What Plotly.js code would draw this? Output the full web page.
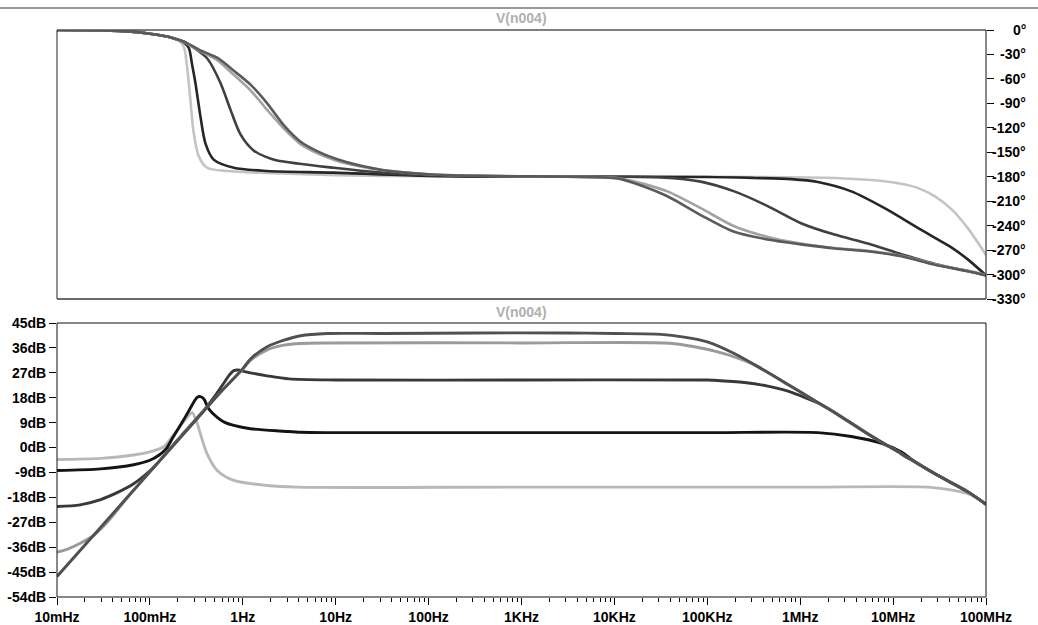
<!DOCTYPE html>
<html>
<head>
<meta charset="utf-8">
<script src="https://cdn.plot.ly/plotly-3.0.1.min.js"></script>
<style>html,body{margin:0;padding:0;background:#fff;}#chart{width:1038px;height:625px;}</style>
</head>
<body>
<div id="chart"></div>
<script>
// ---------- tick labels ----------
var freqTickVals = [0.01, 0.1, 1, 10, 100, 1e3, 1e4, 1e5, 1e6, 1e7, 1e8];
var freqTickText = ["10mHz", "100mHz", "1Hz", "10Hz", "100Hz", "1KHz", "10KHz", "100KHz", "1MHz", "10MHz", "100MHz"];
var magTickVals = [45, 36, 27, 18, 9, 0, -9, -18, -27, -36, -45, -54];
var magTickText = ["45dB", "36dB", "27dB", "18dB", "9dB", "0dB", "-9dB", "-18dB", "-27dB", "-36dB", "-45dB", "-54dB"];
var phaseTickVals = [0, -30, -60, -90, -120, -150, -180, -210, -240, -270, -300, -330];
var phaseTickText = ["0°", "-30°", "-60°", "-90°", "-120°", "-150°", "-180°", "-210°", "-240°", "-270°", "-300°", "-330°"];
var traceTitle = "V(n004)";

// ---------- magnitude (dB) ----------
var mag1F = [0.01, 0.0295, 0.0668, 0.1, 0.141, 0.178, 0.224, 0.26, 0.285, 0.324, 0.35, 0.413, 0.53, 0.8, 1.83, 3.86, 1e3, 1e6, 2.37e7, 4e7, 6.4e7, 1e8];
var mag1V = [-4.3, -3.9, -2.7, -1.6, 0.3, 4.4, 8.7, 11.5, 12.6, 8.6, 4.9, -2.3, -8.3, -11.9, -13.7, -14.3, -14.3, -14.3, -14.3, -15.2, -16.7, -20.5];

var mag2F = [0.01, 0.0295, 0.0668, 0.1, 0.126, 0.15, 0.178, 0.224, 0.262, 0.296, 0.324, 0.35, 0.38, 0.43, 0.53, 0.63, 0.8, 1.21, 2.77, 4.17, 10, 1e3, 1e5, 1.55e6, 3.55e6, 7.4e6, 1.23e7, 1.6e7, 2.82e7, 6.46e7, 1e8];
var mag2V = [-8.3, -7.7, -6.2, -4.6, -2.7, -0.4, 3.8, 9.3, 13.2, 16.4, 18.2, 18.4, 17.6, 14.0, 10.9, 9.2, 8.0, 6.8, 5.9, 5.5, 5.4, 5.4, 5.4, 5.4, 4.0, 1.6, -1.6, -4.4, -9.5, -16.1, -20.5];

var mag3F = [0.01, 0.0178, 0.0295, 0.0444, 0.0668, 0.1, 0.126, 0.158, 0.251, 0.398, 0.5, 0.631, 0.708, 0.8, 0.89, 1, 1.21, 1.83, 3.16, 10, 1e3, 1e5, 1.17e5, 2.51e5, 4.47e5, 7.4e5, 1.2e6, 1.58e6, 2.34e6, 5.37e6, 1.23e7, 2.82e7, 6.46e7, 1e8];
var mag3V = [-21.3, -20.7, -18.8, -16.3, -13.1, -8.4, -4.9, -1.0, 6.6, 14.2, 18.6, 23.5, 26.0, 27.8, 28.0, 27.6, 27.0, 25.9, 24.8, 24.4, 24.4, 24.4, 24.3, 23.5, 22.2, 20.4, 17.7, 16.0, 12.7, 4.9, -2.3, -9.5, -16.1, -20.5];

var mag4F = [0.01, 0.0128, 0.0178, 0.0251, 0.0355, 0.0562, 0.1, 0.316, 0.562, 1, 1.21, 1.83, 2.77, 4.19, 8.1, 1e3, 3.98e4, 7.24e4, 1.29e5, 1.95e5, 2.69e5, 3.8e5, 7.4e5, 1.41e6, 2.34e6, 5.37e6, 1.23e7, 2.82e7, 6.46e7, 1e8];
var mag4V = [-37.8, -36.8, -34.6, -31.6, -26.6, -18.4, -8.8, 10.1, 19.6, 28.3, 31.5, 35.3, 37.0, 37.6, 37.8, 37.8, 37.7, 36.4, 34.6, 32.8, 31.0, 28.4, 22.7, 17.1, 12.7, 4.9, -2.3, -9.5, -16.1, -20.5];

var mag5F = [0.01, 0.0316, 0.1, 0.316, 0.562, 1, 1.21, 1.83, 2.77, 4.19, 8.1, 31.6, 316, 3160, 1e4, 3.16e4, 5.62e4, 1e5, 1.95e5, 3.8e5, 7.4e5, 1.41e6, 2.34e6, 5.37e6, 1.23e7, 2.82e7, 6.46e7, 1e8];
var mag5V = [-46.6, -27.7, -8.8, 10.1, 19.6, 28.5, 32.0, 36.4, 38.8, 40.4, 41.2, 41.2, 41.4, 41.4, 41.2, 40.9, 39.9, 38.2, 34.0, 28.6, 22.8, 17.1, 12.7, 4.9, -2.3, -9.5, -16.1, -20.5];

// ---------- phase (degrees) ----------
var ph1F = [0.01, 0.03, 0.063, 0.1, 0.153, 0.2, 0.231, 0.251, 0.273, 0.296, 0.336, 0.413, 0.68, 1.83, 10, 100, 1e3, 1e5, 2.34e6, 8.1e6, 1.26e7, 1.86e7, 2.82e7, 4.27e7, 6.46e7, 1e8];
var ph1V = [0, -0.5, -2, -4.5, -8, -12, -20, -45, -86, -126, -155, -169, -173, -175.5, -178, -179.5, -180, -180, -181.6, -185.5, -189, -194, -204, -220, -244, -276];

var ph2F = [0.01, 0.03, 0.063, 0.1, 0.153, 0.2, 0.23, 0.262, 0.285, 0.309, 0.35, 0.396, 0.486, 0.8, 1.83, 9.5, 100, 1e3, 1e5, 3.16e5, 8e5, 1.55e6, 3.55e6, 8.1e6, 1.86e7, 2.82e7, 4.27e7, 6.46e7, 1e8];
var ph2V = [0, -0.5, -2, -4.5, -8, -12, -15, -22, -43, -65, -106, -139, -159, -169, -173, -175, -179, -180, -180.3, -181.5, -183, -186.5, -198, -218.6, -243, -255, -267, -282, -301];

var ph3F = [0.01, 0.03, 0.063, 0.1, 0.153, 0.2, 0.231, 0.3, 0.413, 0.575, 0.738, 0.944, 1.315, 1.8, 2.34, 9.5, 31.6, 100, 1e3, 1e4, 3.16e4, 8.5e4, 1.95e5, 4.47e5, 1.02e6, 2.34e6, 5.37e6, 1.23e7, 2.82e7, 6.46e7, 1e8];
var ph3V = [0, -0.5, -2, -4.5, -8, -12, -14, -22, -34.7, -65, -98, -128, -148, -156, -160, -169, -175, -178, -179.5, -180, -181, -186, -198, -216, -237, -251, -262, -275, -287, -296, -301];

var ph4F = [0.01, 0.03, 0.063, 0.1, 0.153, 0.23, 0.35, 0.53, 0.8, 1.21, 1.83, 2.77, 4.19, 6.3, 10, 17.8, 33, 100, 1e3, 3.16e3, 1.07e4, 1.62e4, 3.72e4, 8.5e4, 1.95e5, 4.47e5, 1.02e6, 2.34e6, 5.37e6, 1.23e7, 2.82e7, 6.46e7, 1e8];
var ph4V = [0, -0.5, -2, -4.5, -8, -14.5, -26, -37, -55, -74, -98, -121, -140, -151, -160, -167, -172, -177, -179.5, -180, -181.5, -185.7, -198, -218.6, -240.8, -253.9, -262, -267.5, -271, -277, -287.5, -295.5, -300.5];

var ph5F = [0.01, 0.03, 0.063, 0.1, 0.153, 0.23, 0.35, 0.53, 0.8, 1.21, 1.83, 2.77, 4.19, 6.3, 10, 17.8, 33, 100, 316, 1e3, 3.16e3, 1.07e4, 1.62e4, 3.72e4, 8.5e4, 1.95e5, 4.47e5, 1.02e6, 2.34e6, 5.37e6, 1.23e7, 2.82e7, 6.46e7, 1e8];
var ph5V = [0, -0.5, -2, -4.5, -8, -14, -25, -34, -50, -67, -90, -117, -137, -148.5, -158, -166, -172, -177, -179, -179.5, -180, -182, -187.7, -204, -227, -247.6, -257, -263, -268, -271.5, -277.6, -288, -296, -301];

// ---------- styling ----------
var colors = ["#b8b8b8", "#141414", "#383838", "#9a9a9a", "#505050"];
var phaseColors = ["#c4c4c4", "#262626", "#404040", "#a2a2a2", "#5a5a5a"];
var magF = [mag1F, mag2F, mag3F, mag4F, mag5F];
var magV = [mag1V, mag2V, mag3V, mag4V, mag5V];
var phF = [ph1F, ph2F, ph3F, ph4F, ph5F];
var phV = [ph1V, ph2V, ph3V, ph4V, ph5V];

var minorVals = [];
for (var d = -2; d < 8; d++) {
  for (var k = 2; k <= 9; k++) minorVals.push(k * Math.pow(10, d));
}

var data = [];
for (var i = 0; i < 5; i++) {
  data.push({
    x: phF[i], y: phV[i], xaxis: 'x', yaxis: 'y', mode: 'lines', type: 'scatter',
    line: {color: phaseColors[i], width: 2.6, shape: 'spline', smoothing: 0.8},
    hoverinfo: 'skip', showlegend: false
  });
}
for (var j = 0; j < 5; j++) {
  data.push({
    x: magF[j], y: magV[j], xaxis: 'x2', yaxis: 'y2', mode: 'lines', type: 'scatter',
    line: {color: colors[j], width: 2.9, shape: 'spline', smoothing: 0.8},
    hoverinfo: 'skip', showlegend: false
  });
}

var tickFont = {family: 'Liberation Sans, Arial, sans-serif', size: 14, color: '#000', weight: 'bold'};
var W = 1038, H = 625, L = 57, R = 52, T = 30, B = 28;
var plotW = W - L - R, plotH = H - T - B;
function py(px) { return (H - B - px) / plotH; }
function pxX(px) { return (px - L) / plotW; }

var topBottom = py(299), botTop = py(323);

var annotations = [
  {text: traceTitle, xref: 'paper', yref: 'paper', x: 0.5, y: py(18), xanchor: 'center', yanchor: 'middle', showarrow: false,
   font: {family: 'Liberation Sans, Arial, sans-serif', size: 14, color: '#b0b0b0', weight: 'bold'}},
  {text: traceTitle, xref: 'paper', yref: 'paper', x: 0.5, y: py(312), xanchor: 'center', yanchor: 'middle', showarrow: false,
   font: {family: 'Liberation Sans, Arial, sans-serif', size: 14, color: '#b0b0b0', weight: 'bold'}}
];
for (var t = 0; t < phaseTickVals.length; t++) {
  annotations.push({text: phaseTickText[t], xref: 'paper', yref: 'y', x: pxX(1028), y: phaseTickVals[t],
    xanchor: 'right', yanchor: 'middle', showarrow: false, font: tickFont});
}

var layout = {
  width: W, height: H,
  margin: {l: L, r: R, t: T, b: B, pad: 0},
  paper_bgcolor: '#ffffff', plot_bgcolor: '#ffffff',
  showlegend: false,
  xaxis: {type: 'log', range: [-2, 8], domain: [0, 1], anchor: 'y', showticklabels: false, ticks: '',
          showgrid: false, zeroline: false, showline: false},
  yaxis: {domain: [topBottom, 1], range: [-330, 0], side: 'right', anchor: 'x', tickmode: 'array', tickvals: phaseTickVals,
          ticks: 'outside', ticklen: 7, tickcolor: '#000', tickwidth: 1, showticklabels: false,
          showgrid: false, zeroline: false, showline: false},
  xaxis2: {type: 'log', range: [-2, 8], domain: [0, 1], anchor: 'y2', tickmode: 'array', tickvals: freqTickVals, ticktext: freqTickText,
           ticks: 'outside', ticklen: 7, tickcolor: '#000', tickwidth: 1, tickfont: tickFont,
           minor: {tickmode: 'array', tickvals: minorVals, ticks: 'outside', ticklen: 4, tickcolor: '#000', tickwidth: 1, showgrid: false},
           showgrid: false, zeroline: false, showline: false},
  yaxis2: {domain: [0, botTop], range: [-54, 45], anchor: 'x2', tickmode: 'array', tickvals: magTickVals, ticktext: magTickText,
           ticks: 'outside', ticklen: 7, tickcolor: '#000', tickwidth: 1, tickfont: tickFont,
           showgrid: false, zeroline: false, showline: false},
  annotations: annotations,
  shapes: [
    {type: 'line', xref: 'paper', yref: 'paper', x0: pxX(0), x1: pxX(W), y0: py(8), y1: py(8), line: {color: '#777', width: 1.5}},
    {type: 'line', xref: 'paper', yref: 'paper', x0: 0, x1: 1, y0: 1, y1: 1, line: {color: '#555', width: 1.5}},
    {type: 'line', xref: 'paper', yref: 'paper', x0: 0, x1: 0, y0: topBottom, y1: 1, line: {color: '#222', width: 1}},
    {type: 'line', xref: 'paper', yref: 'paper', x0: 1, x1: 1, y0: topBottom, y1: 1, line: {color: '#111', width: 1}},
    {type: 'line', xref: 'paper', yref: 'paper', x0: 0, x1: 1, y0: topBottom, y1: topBottom, line: {color: '#6a6a6a', width: 2}},
    {type: 'rect', xref: 'paper', yref: 'paper', x0: 0, x1: 1, y0: 0, y1: botTop, line: {color: '#111', width: 1}, fillcolor: 'rgba(0,0,0,0)'}
  ]
};

Plotly.newPlot('chart', data, layout, {staticPlot: true, displayModeBar: false});
</script>
</body>
</html>
